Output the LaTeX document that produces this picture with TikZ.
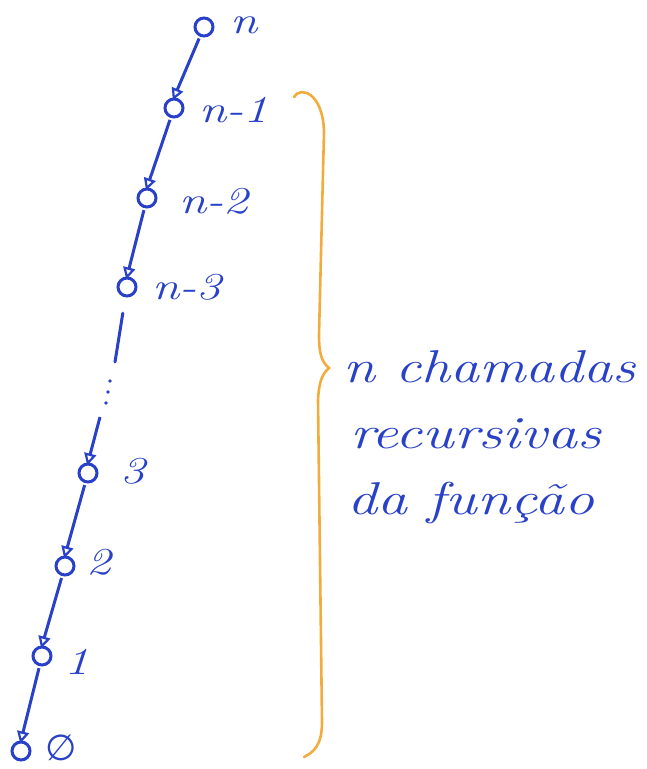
\documentclass[tikz,border=0pt]{standalone}
\usepackage{fontspec}
\usepackage{graphicx}
\usetikzlibrary{arrows.meta}
\newfontfamily\djv{DejaVu Sans}
\definecolor{ink}{RGB}{40,65,200}
\definecolor{bracecol}{RGB}{242,172,62}
\newcommand{\hw}[1]{\scalebox{1.3}[1]{#1}}
\newcommand{\hwt}[1]{\scalebox{1.26}[1]{#1}}
\begin{document}
\begin{tikzpicture}[x=1pt,y=-1pt,
  callnode/.style={circle,draw=ink,line width=3pt,minimum size=18pt,inner sep=0pt},
  lbl/.style={text=ink,font=\fontsize{38}{40}\selectfont\itshape,anchor=west,inner sep=0pt},
  txt/.style={text=ink,font=\fontsize{46}{60}\selectfont\itshape,anchor=base west,inner sep=0pt},
  callarrow/.style={draw=ink,line width=3pt,-{Triangle[open,length=12pt,width=12pt,line width=2.2pt]},shorten <=2pt,shorten >=-3pt},
  inkline/.style={draw=ink,line width=3pt,line cap=round}]
\useasboundingbox (0,0) rectangle (646,769);
% call nodes
\node[callnode] (cn)  at (204,27)  {};
\node[callnode] (cn1) at (174,108) {};
\node[callnode] (cn2) at (147,198) {};
\node[callnode] (cn3) at (127,287) {};
\node[callnode] (c3)  at (88,473)  {};
\node[callnode] (c2)  at (65,566)  {};
\node[callnode] (c1)  at (42,656)  {};
\node[callnode] (c0)  at (21,751)  {};
% labels
\node[lbl] (ln)  at (230,25)  {\hw{n}};
\node[lbl] (ln1) at (199,110) {\hw{n-1}};
\node[lbl] (ln2) at (179,201) {\hw{n-2}};
\node[lbl] (ln3) at (152,287) {\hw{n-3}};
\node[lbl] (l3)  at (120,471) {\hw{3}};
\node[lbl] (l2)  at (86,562)  {\hw{2}};
\node[lbl] (l1)  at (64,662)  {\hw{1}};
\node[lbl,font=\fontsize{36}{40}\selectfont\djv] (l0) at (45,748) {∅};
% arrows
\draw[callarrow] (cn) -- (cn1.north);
\draw[callarrow] (cn1) -- (cn2.north);
\draw[callarrow] (cn2) -- (cn3.north);
\coordinate (b1) at (115,362);
\coordinate (b2) at (100,417);
\draw[inkline,shorten <=16pt] (cn3) -- (b1);
\fill[ink] (110,381) circle (1.8pt) (108,392) circle (1.8pt) (106,403) circle (1.8pt);
\draw[callarrow,shorten <=0pt] (b2) -- (c3.north);
\draw[callarrow] (c3) -- (c2.north);
\draw[callarrow] (c2) -- (c1.north);
\draw[callarrow] (c1) -- (c0.north);
% brace
\draw[bracecol,line width=2.6pt,line cap=round]
  (294,97) .. controls (300,86) and (323,92) .. (324,132)
  -- (319,335) .. controls (319,355) and (322,362) .. (329,368)
  .. controls (322,374) and (319,382) .. (318,400)
  -- (322,722) .. controls (322,745) and (314,752) .. (304,757);
% text
\node[txt] (t1) at (343,382) {\hwt{n chamadas}};
\node[txt] (t2) at (350,448) {\hw{recursivas}};
\node[txt] (t3) at (347,514) {\hw{da função}};
\end{tikzpicture}
\end{document}
